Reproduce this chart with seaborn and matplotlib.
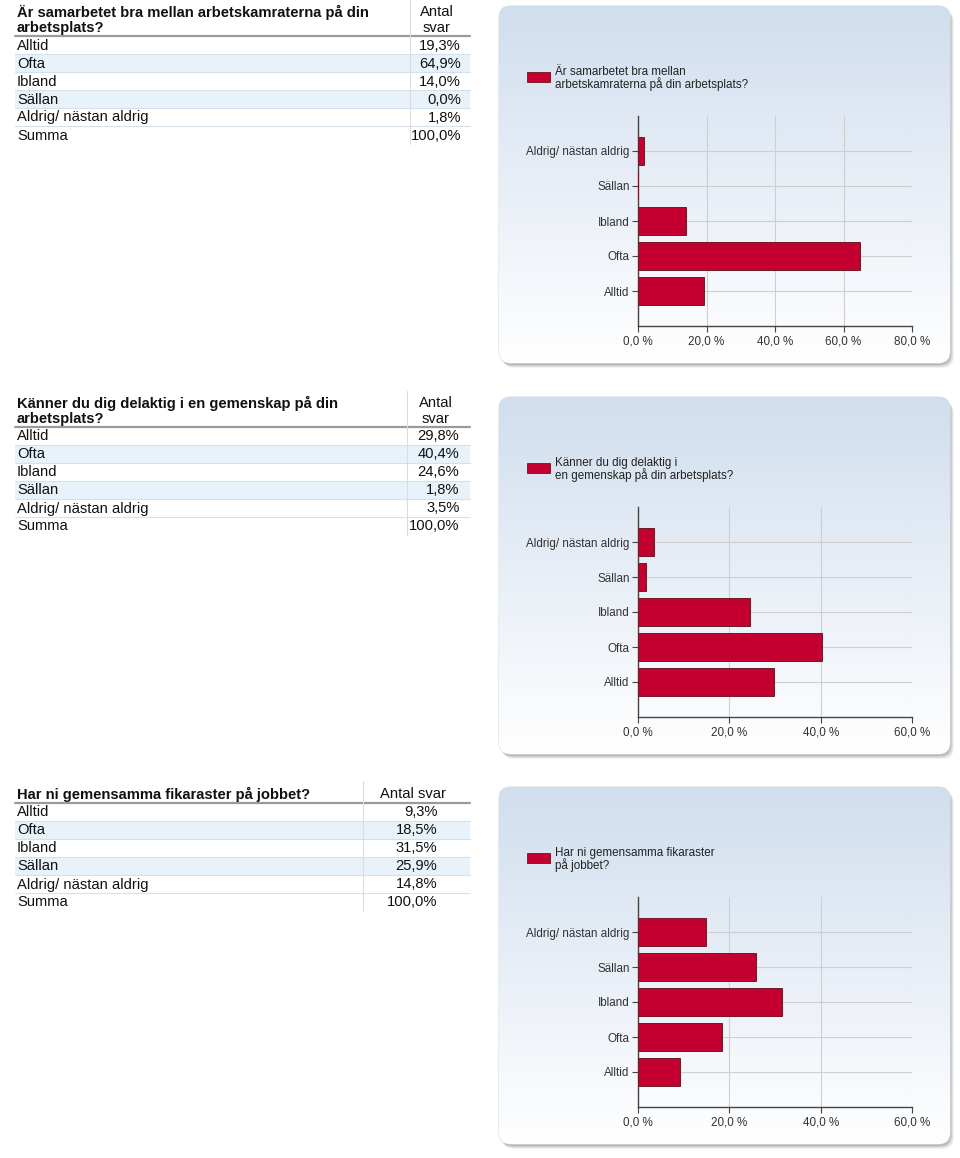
import numpy as np
import pandas as pd
import seaborn as sns
import matplotlib.pyplot as plt
from matplotlib.patches import FancyBboxPatch, Rectangle

categories = ['Alltid', 'Ofta', 'Ibland', 'Sällan', 'Aldrig/ nästan aldrig']

q1_title = ['Är samarbetet bra mellan arbetskamraterna på din', 'arbetsplats?']
q1_legend = ['Är samarbetet bra mellan', 'arbetskamraterna på din arbetsplats?']
q1_header = ['Antal', 'svar']
q1_values = [19.3, 64.9, 14.0, 0.0, 1.8]
q1_xticks = [0, 20, 40, 60, 80]

q2_title = ['Känner du dig delaktig i en gemenskap på din', 'arbetsplats?']
q2_legend = ['Känner du dig delaktig i', 'en gemenskap på din arbetsplats?']
q2_header = ['Antal', 'svar']
q2_values = [29.8, 40.4, 24.6, 1.8, 3.5]
q2_xticks = [0, 20, 40, 60]

q3_title = ['Har ni gemensamma fikaraster på jobbet?']
q3_legend = ['Har ni gemensamma fikaraster', 'på jobbet?']
q3_header = ['Antal svar']
q3_values = [9.3, 18.5, 31.5, 25.9, 14.8]
q3_xticks = [0, 20, 40, 60]

summa = 100.0

sns.set_theme(style='white')
plt.rcParams['font.family'] = ['Liberation Sans', 'DejaVu Sans']

W, H = 960, 1158
fig = plt.figure(figsize=(W / 100, H / 100), dpi=100)
bg = fig.add_axes([0, 0, 1, 1])
bg.set_xlim(0, W)
bg.set_ylim(H, 0)
bg.axis('off')

BAR = '#c3002f'
ROW_BLUE = '#e8f2fb'
FS = 10.6


def pct(v):
    return f'{v:.1f}'.replace('.', ',') + '%'


def draw_table(off, title, header, values, sep_x):
    # pixel positions of header lines and the rule below them
    if len(title) == 2:
        line_y = [off + 12, off + 28]
        rule_y = off + 36
    else:
        line_y = [off + 13]
        rule_y = off + 22
    col_c = (sep_x + 470) / 2
    for i, ln in enumerate(title):
        bg.text(17, line_y[i], ln, fontsize=FS, fontweight='bold', va='center',
                ha='left', color='#111')
    for i, ln in enumerate(header):
        bg.text(col_c - 3, line_y[i], ln, fontsize=FS, va='center', ha='center', color='#111')
    rows = list(zip(categories, [pct(v) for v in values])) + [('Summa', pct(summa))]
    for i, (lab, val) in enumerate(rows):
        yc = rule_y + 9 + 18 * i
        if i in (1, 3):
            bg.add_patch(Rectangle((15, yc - 9), 455, 18, color=ROW_BLUE, lw=0, zorder=0))
        if i < len(rows) - 1:
            bg.plot([15, 470], [yc + 9, yc + 9], color='#d6e0ea', lw=0.8, zorder=1)
        bg.text(17, yc + 0.5, lab, fontsize=FS, va='center', ha='left', color='#111')
        bg.text(col_c + 21, yc + 0.5, val, fontsize=FS, va='center', ha='right', color='#111')
    bg.plot([15, 470], [rule_y, rule_y], color='#9a9a9a', lw=1.6, zorder=2)
    bg.plot([sep_x, sep_x], [off, rule_y + 9 + 18 * 5 + 9], color='#dcdcdc', lw=0.8, zorder=2)


def draw_panel(off):
    x0, x1, y0, y1 = 499, 950, off + 6, off + 363
    for d, a in [(5, 0.10), (4, 0.15), (3, 0.2), (2, 0.25)]:
        sh = FancyBboxPatch((x0 + d - 1, y0 + d), x1 - x0, y1 - y0,
                            boxstyle='round,pad=0,rounding_size=12',
                            fc='#808080', ec='none', alpha=a, zorder=0)
        bg.add_patch(sh)
    box = FancyBboxPatch((x0, y0), x1 - x0, y1 - y0,
                         boxstyle='round,pad=0,rounding_size=12',
                         fc='white', ec='#d8dde4', lw=0.8, zorder=1)
    bg.add_patch(box)
    top = np.array([0.82, 0.87, 0.935])
    bot = np.array([1.0, 1.0, 1.0])
    t = np.linspace(0, 1, 256)[:, None]
    grad = (top * (1 - t) + bot * t)[:, None, :]
    im = bg.imshow(grad, extent=(x0, x1, y1, y0), aspect='auto', zorder=1.5,
                   interpolation='bilinear')
    im.set_clip_path(box)
    bg.set_xlim(0, W)
    bg.set_ylim(H, 0)


def draw_chart(off, values, legend, xticks):
    draw_panel(off)
    bg.add_patch(Rectangle((527, off + 72), 23, 10, fc=BAR, ec='#7a1020', lw=0.6, zorder=3))
    for i, ln in enumerate(legend):
        bg.text(555, off + 72 + 12 * i, ln, fontsize=8.4, va='center', ha='left',
                color='#222', zorder=3)
    ax = fig.add_axes([638 / W, (H - (off + 326)) / H, 274 / W, 210 / H])
    ax.set_facecolor('none')
    df = pd.DataFrame({'kat': categories, 'andel': values})
    sns.barplot(data=df, x='andel', y='kat', order=categories[::-1], orient='h',
                color=BAR, saturation=1, width=0.8, edgecolor='#6e1a28',
                linewidth=0.7, ax=ax, zorder=3)
    ax.set_xlim(0, xticks[-1])
    ax.set_ylim(5, -1)
    ax.set_xticks(xticks)
    ax.set_xticklabels([f'{v:.1f}'.replace('.', ',') + ' %' for v in xticks])
    ax.grid(True, color='#cfcfcf', lw=0.8)
    ax.set_axisbelow(True)
    for s in ['top', 'right']:
        ax.spines[s].set_visible(False)
    for s in ['left', 'bottom']:
        ax.spines[s].set_color('#444')
        ax.spines[s].set_linewidth(1.0)
    ax.tick_params(axis='both', which='major', length=4, width=0.8, color='#444',
                   labelsize=8.4, labelcolor='#333', pad=2, left=True, bottom=True)
    ax.tick_params(axis='x', pad=3)
    ax.set_xlabel('')
    ax.set_ylabel('')


draw_table(0, q1_title, q1_header, q1_values, 410)
draw_table(391, q2_title, q2_header, q2_values, 407)
draw_table(781, q3_title, q3_header, q3_values, 363)

draw_chart(0, q1_values, q1_legend, q1_xticks)
draw_chart(391, q2_values, q2_legend, q2_xticks)
draw_chart(781, q3_values, q3_legend, q3_xticks)

fig.savefig('out.png', dpi=100)
